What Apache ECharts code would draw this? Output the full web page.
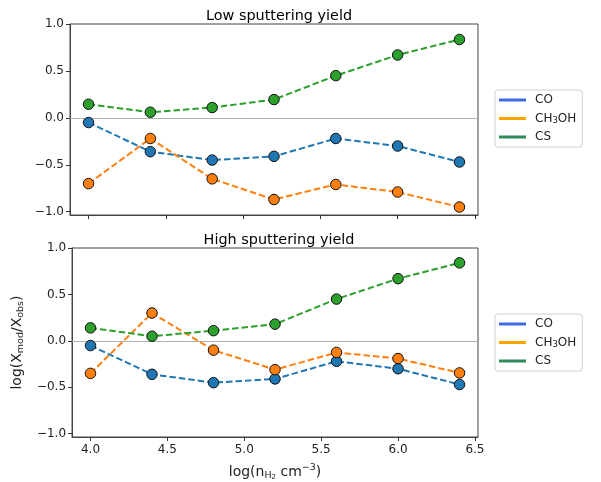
<!DOCTYPE html>
<html>
<head>
<meta charset="utf-8">
<script src="https://cdn.jsdelivr.net/npm/echarts@6/dist/echarts.min.js"></script>
<style>
  html, body { margin: 0; padding: 0; background: #fff; }
  #main { width: 601px; height: 482px; }
</style>
</head>
<body>
<div id="main"></div>
<script>
// x positions: log(n_H2)
var densities = [4.0, 4.4, 4.8, 5.2, 5.6, 6.0, 6.4];
var xTicks = [4.0, 4.5, 5.0, 5.5, 6.0, 6.5];
var yTicks = [-1.0, -0.5, 0.0, 0.5, 1.0];
var speciesNames = ['CO', 'CH3OH', 'CS'];

// low sputtering yield
var lowCO = [-0.05, -0.36, -0.45, -0.41, -0.22, -0.30, -0.47];
var lowCH3OH = [-0.70, -0.22, -0.65, -0.87, -0.71, -0.79, -0.95];
var lowCS = [0.145, 0.06, 0.11, 0.195, 0.45, 0.67, 0.835];

// high sputtering yield
var highCO = [-0.05, -0.36, -0.45, -0.41, -0.22, -0.30, -0.47];
var highCH3OH = [-0.35, 0.30, -0.10, -0.31, -0.125, -0.19, -0.345];
var highCS = [0.14, 0.05, 0.11, 0.18, 0.45, 0.67, 0.84];

function pairs(ys) {
    return densities.map(function (x, i) { return [x, ys[i]]; });
}

var font = 'DejaVu Sans';
var dotColors = ['#1f77b4', '#ff7f0e', '#2ca02c'];   // markers / dashes
var keyColors = ['#4169e1', '#ffa500', '#2e8b57'];   // legend lines

function minus(v) {
    return v.toFixed(1).replace('-', '\u2212');
}

function makeSeries(name, ys, idx, gridIdx, withZero) {
    var s = {
        name: name,
        type: 'line',
        xAxisIndex: gridIdx,
        yAxisIndex: gridIdx,
        data: pairs(ys),
        symbol: 'circle',
        symbolSize: 10.5,
        z: 3,
        lineStyle: { color: dotColors[idx], width: 2, type: [6.5, 3] },
        itemStyle: { color: dotColors[idx], borderColor: '#111', borderWidth: 1 },
        emphasis: { disabled: true }
    };
    if (withZero) {
        s.markLine = {
            silent: true,
            symbol: 'none',
            label: { show: false },
            lineStyle: { color: '#b0b0b0', width: 1, type: 'solid' },
            data: [{ yAxis: 0 }],
            z: 1
        };
    }
    return s;
}

function makeLegend(top) {
    return {
        orient: 'vertical',
        left: 495,
        top: top,
        padding: [3, 6, 3, 4],
        itemGap: 4.5,
        itemWidth: 27,
        itemHeight: 3,
        borderColor: '#d0d0d0',
        borderWidth: 1,
        borderRadius: 3,
        selectedMode: false,
        data: speciesNames.map(function (n, i) {
            return { name: n, icon: 'rect', itemStyle: { color: keyColors[i], borderWidth: 0 } };
        }),
        formatter: function (name) {
            return name === 'CH3OH' ? 'CH{sub|3}OH' : name;
        },
        textStyle: {
            fontFamily: font, fontSize: 12, color: '#222', lineHeight: 14,
            padding: [0, 0, 0, 4],
            rich: { sub: { fontFamily: font, fontSize: 8.5, lineHeight: 10, verticalAlign: 'bottom' } }
        }
    };
}

function makeX(gridIdx, labels) {
    return {
        type: 'value',
        gridIndex: gridIdx,
        min: 3.88,
        max: 6.52,
        splitLine: { show: false },
        axisLine: { show: true, onZero: false, lineStyle: { color: '#444', width: 1 } },
        axisTick: { show: true, length: 4, customValues: xTicks, lineStyle: { color: '#333', width: 1 } },
        axisLabel: {
            show: labels, customValues: xTicks, margin: 7,
            fontFamily: font, fontSize: 12, color: '#222',
            formatter: function (v) { return v.toFixed(1); }
        },
        name: labels ? 'log(n{sub|H}{sub2|2} cm{sup|\u22123})' : '',
        nameLocation: 'middle',
        nameGap: 26,
        nameTextStyle: {
            fontFamily: font, fontSize: 14, color: '#222', lineHeight: 18,
            rich: {
                sub: { fontFamily: font, fontSize: 9.5, lineHeight: 11, verticalAlign: 'bottom' },
                sub2: { fontFamily: font, fontSize: 7, lineHeight: 7, verticalAlign: 'bottom' },
                sup: { fontFamily: font, fontSize: 9.5, lineHeight: 11, verticalAlign: 'top' }
            }
        }
    };
}

function makeY(gridIdx, named) {
    return {
        type: 'value',
        gridIndex: gridIdx,
        min: -1.035,
        max: 1.0,
        splitLine: { show: false },
        axisLine: { show: true, onZero: false, lineStyle: { color: '#444', width: 1 } },
        axisTick: { show: true, length: 4, customValues: yTicks, lineStyle: { color: '#333', width: 1 } },
        axisLabel: {
            customValues: yTicks, margin: 6,
            fontFamily: font, fontSize: 12, color: '#222',
            formatter: minus
        },
        name: named ? 'log(X{sub|mod}/X{sub|obs})' : '',
        nameLocation: 'middle',
        nameGap: 33,
        nameTextStyle: {
            fontFamily: font, fontSize: 14, color: '#222', lineHeight: 18,
            rich: { sub: { fontFamily: font, fontSize: 9.5, lineHeight: 11, verticalAlign: 'bottom' } }
        }
    };
}

var myChart = echarts.init(document.getElementById('main'));
var option = {
    backgroundColor: '#fff',
    animation: false,
    title: [
        { text: 'Low sputtering yield', left: 274, top: 4, textAlign: 'center',
          textStyle: { fontFamily: font, fontSize: 14.4, fontWeight: 'normal', color: '#000' } },
        { text: 'High sputtering yield', left: 274, top: 228, textAlign: 'center',
          textStyle: { fontFamily: font, fontSize: 14.4, fontWeight: 'normal', color: '#000' } }
    ],
    grid: [
        { left: 70, right: 123, top: 24, height: 191, show: true, borderColor: '#444', borderWidth: 1, backgroundColor: 'transparent' },
        { left: 70, right: 123, top: 248, height: 191, show: true, borderColor: '#444', borderWidth: 1, backgroundColor: 'transparent' }
    ],
    legend: [makeLegend(90), makeLegend(314)],
    xAxis: [makeX(0, false), makeX(1, true)],
    yAxis: [makeY(0, false), makeY(1, true)],
    series: [
        makeSeries('CO', lowCO, 0, 0, true),
        makeSeries('CH3OH', lowCH3OH, 1, 0, false),
        makeSeries('CS', lowCS, 2, 0, false),
        makeSeries('CO', highCO, 0, 1, true),
        makeSeries('CH3OH', highCH3OH, 1, 1, false),
        makeSeries('CS', highCS, 2, 1, false)
    ]
};
myChart.setOption(option);
</script>
</body>
</html>
